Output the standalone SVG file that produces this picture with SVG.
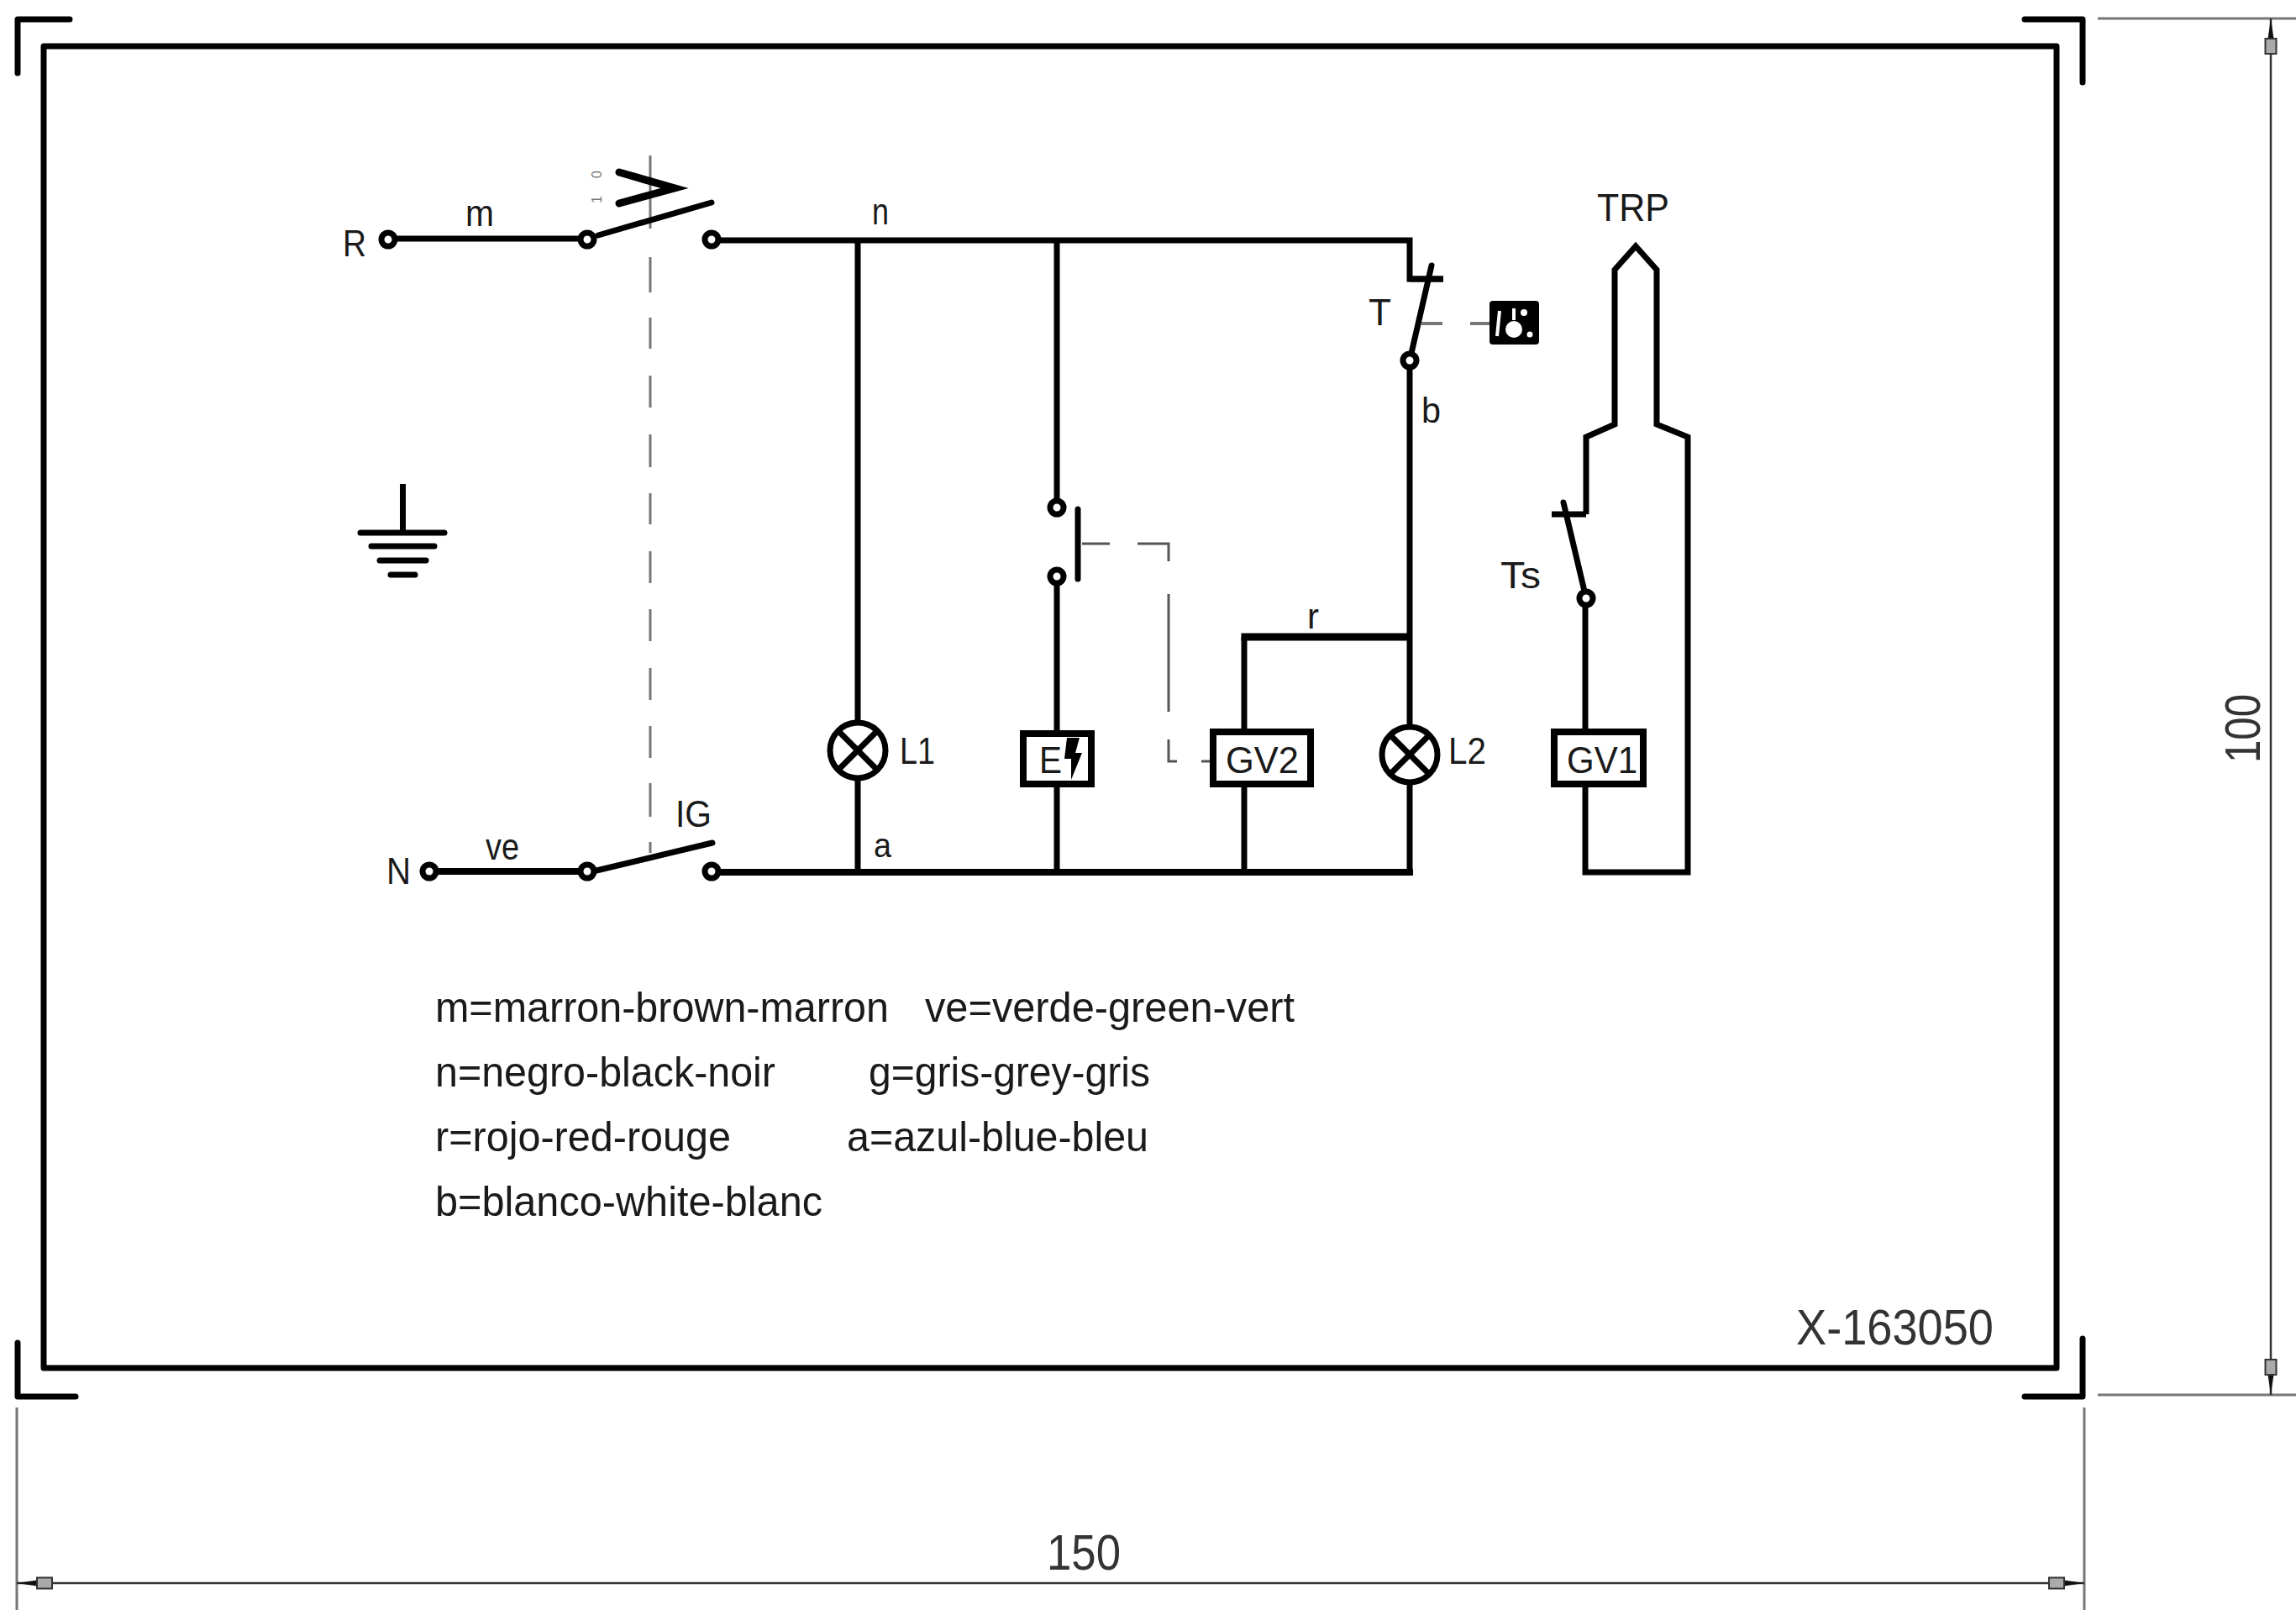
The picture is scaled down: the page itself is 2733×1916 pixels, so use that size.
<svg xmlns="http://www.w3.org/2000/svg" width="2733" height="1916" viewBox="0 0 2733 1916">
<style>
text{font-family:"Liberation Sans",Arial,sans-serif;fill:#1a1a1a;font-size:45px;}
.leg{font-size:50px}
.big{font-size:60px;fill:#333}
.w{fill:none;stroke:#000;stroke-width:7;stroke-linejoin:miter;stroke-linecap:butt}
.fr{fill:none;stroke:#000;stroke-width:7;stroke-linejoin:round;stroke-linecap:round}
.t{fill:#fff;stroke:#000;stroke-width:7}
.box{fill:#fff;stroke:#000;stroke-width:8}
.bl{fill:none;stroke:#000;stroke-width:7;stroke-linecap:round}
.d{fill:none;stroke:#555;stroke-width:3}
.e{fill:none;stroke:#777;stroke-width:3}
.dim{fill:none;stroke:#333;stroke-width:2.5;marker-start:url(#ah);marker-end:url(#ah)}
</style>
<defs>
<marker id="ah" markerUnits="userSpaceOnUse" markerWidth="46" markerHeight="18" refX="44" refY="9" orient="auto-start-reverse">
<path d="M44 9L20 5.5H20V12.5Z" fill="#111"/><rect x="2" y="2.5" width="18" height="13" fill="#aaa" stroke="#333" stroke-width="2"/>
</marker>
</defs>
<g id="frame">
<rect x="52" y="55" width="2396" height="1573" class="fr"/>
<path class="fr" d="M83 23H21V87"/>
<path class="fr" d="M2410 23H2479V98"/>
<path class="fr" d="M21 1598V1662H90"/>
<path class="fr" d="M2479 1593V1662H2410"/>
</g>
<g id="connectors">
<path class="w" d="M462 284H699"/>
<path class="w" d="M847 286H1678V332H1718"/>
<path class="w" d="M1021 286V1038"/>
<path class="w" d="M1258 286V604M1258 686V1038"/>
<path class="w" d="M1678 429V1038"/>
<path class="w" d="M1481 1038V758"/>
<path class="w" style="stroke-width:9" d="M1477.500 758H1678"/>
<path class="w" style="stroke-width:8" d="M511 1037H699M847 1038H1682"/>
<path class="w" d="M1888 612H1847M1888 612V520L1922 505V321L1947 293L1972 321V505L2009 520V1038H1887V712"/>
<path class="e" d="M774 185V272M774 306V348M774 378V415M774 447V485M774 517V556M774 587V624M774 656V694M774 725V763M774 795V833M774 864V902M774 932V972M774 1002V1015"/>
<path class="d" d="M1288 647H1321M1354 647H1391V668M1391 707V847M1391 880V906H1401M1430 906H1444"/>
<path style="fill:none;stroke:#777;stroke-width:4" d="M1692 385H1717M1750 385H1776"/>
</g>
<g id="terminal-R"><circle class="t" cx="462" cy="285" r="8"/><text x="408" y="305" textLength="28" lengthAdjust="spacingAndGlyphs">R</text></g>
<g id="label-m"><text x="554" y="269" textLength="34" lengthAdjust="spacingAndGlyphs">m</text></g>
<g id="switch-main">
<line class="bl" x1="712" y1="280" x2="847" y2="241"/>
<path class="bl" style="stroke-width:9" d="M737 205L803 224L737 242"/>
<text transform="translate(716,212) rotate(-90)" style="font-size:16px;fill:#777">0</text>
<text transform="translate(716,242) rotate(-90)" style="font-size:16px;fill:#777">1</text>
<circle class="t" cx="699" cy="285" r="8"/><circle class="t" cx="847" cy="285" r="8"/>
</g>
<g id="label-n"><text x="1038" y="267" textLength="20" lengthAdjust="spacingAndGlyphs">n</text></g>
<g id="earth">
<path class="w" d="M479.500 576V634"/>
<path class="bl" d="M429 634H529M442 650H517M452 667H507M465 684H494"/>
</g>
<g id="thermostat-T">
<path class="bl" d="M1704 316L1678 429"/>
<path class="bl" style="stroke-linecap:butt" d="M1678 332H1718"/>
<circle class="t" cx="1678" cy="429" r="8"/>
<text x="1629" y="387" textLength="27" lengthAdjust="spacingAndGlyphs">T</text>
<rect x="1773" y="358" width="59" height="52" rx="4" fill="#000"/>
<path d="M1785 370l-3 30M1802 367v14" stroke="#fff" stroke-width="4" fill="none"/>
<ellipse cx="1802" cy="392" rx="10" ry="10" fill="#fff"/>
<circle cx="1814" cy="372" r="4" fill="#fff"/><circle cx="1821" cy="398" r="3.500" fill="#fff"/>
</g>
<g id="label-b"><text x="1692" y="503" style="font-size:42px" textLength="23" lengthAdjust="spacingAndGlyphs">b</text></g>
<g id="label-TRP"><text x="1901" y="263" style="font-size:46px" textLength="86" lengthAdjust="spacingAndGlyphs">TRP</text></g>
<g id="thermostat-Ts">
<path class="bl" d="M1861 598L1888 712"/>
<circle class="t" cx="1888" cy="712" r="8"/>
<text x="1786" y="700" textLength="48" lengthAdjust="spacingAndGlyphs">Ts</text>
</g>
<g id="pushbutton">
<circle class="t" cx="1258" cy="604" r="8"/><circle class="t" cx="1258" cy="686" r="8"/>
<path class="bl" d="M1283 606V689"/>
</g>
<g id="label-r"><text x="1556" y="748" textLength="14" lengthAdjust="spacingAndGlyphs" style="font-size:42px">r</text></g>
<g id="lamp-L1">
<circle class="t" cx="1021" cy="893" r="33"/><path class="w" d="M998 870L1044 916M1044 870L998 916"/>
<text x="1071" y="909" textLength="42" lengthAdjust="spacingAndGlyphs">L1</text>
</g>
<g id="igniter-E">
<rect class="box" x="1218" y="873" width="81" height="60"/>
<text x="1237" y="920" textLength="27" lengthAdjust="spacingAndGlyphs">E</text>
<path d="M1270 878L1267 903H1275L1275 928L1288 896H1280L1285 878Z" fill="#000"/>
</g>
<g id="valve-GV2">
<rect class="box" x="1444" y="871" width="116" height="62"/>
<text x="1459" y="920" textLength="87" lengthAdjust="spacingAndGlyphs">GV2</text>
</g>
<g id="lamp-L2">
<circle class="t" cx="1678" cy="898" r="33"/><path class="w" d="M1655 875L1701 921M1701 875L1655 921"/>
<text x="1724" y="909" textLength="45" lengthAdjust="spacingAndGlyphs">L2</text>
</g>
<g id="valve-GV1">
<rect class="box" x="1850" y="871" width="106" height="62"/>
<text x="1865" y="920" textLength="84" lengthAdjust="spacingAndGlyphs">GV1</text>
</g>
<g id="label-a"><text x="1040" y="1020" style="font-size:40px" textLength="21" lengthAdjust="spacingAndGlyphs">a</text></g>
<g id="terminal-N"><circle class="t" cx="511" cy="1037" r="8"/><text x="460" y="1052" textLength="29" lengthAdjust="spacingAndGlyphs">N</text></g>
<g id="label-ve"><text x="578" y="1023" textLength="40" lengthAdjust="spacingAndGlyphs">ve</text></g>
<g id="switch-IG">
<line class="bl" x1="710" y1="1036" x2="848" y2="1003"/>
<circle class="t" cx="699" cy="1037" r="8"/><circle class="t" cx="847" cy="1037" r="8"/>
<text x="804" y="984" textLength="43" lengthAdjust="spacingAndGlyphs">IG</text>
</g>
<g id="legend">
<text class="leg" x="518" y="1216" textLength="540" lengthAdjust="spacingAndGlyphs">m=marron-brown-marron</text>
<text class="leg" x="1101" y="1216" textLength="440" lengthAdjust="spacingAndGlyphs">ve=verde-green-vert</text>
<text class="leg" x="518" y="1293" textLength="405" lengthAdjust="spacingAndGlyphs">n=negro-black-noir</text>
<text class="leg" x="1034" y="1293" textLength="335" lengthAdjust="spacingAndGlyphs">g=gris-grey-gris</text>
<text class="leg" x="518" y="1370" textLength="352" lengthAdjust="spacingAndGlyphs">r=rojo-red-rouge</text>
<text class="leg" x="1008" y="1370" textLength="359" lengthAdjust="spacingAndGlyphs">a=azul-blue-bleu</text>
<text class="leg" x="518" y="1447" textLength="461" lengthAdjust="spacingAndGlyphs">b=blanco-white-blanc</text>
</g>
<g id="part-number"><text class="big" x="2138" y="1600" textLength="235" lengthAdjust="spacingAndGlyphs">X-163050</text></g>
<g id="dimensions">
<path class="e" d="M2497 22H2733M2497 1660H2733M20 1675V1916M2481 1675V1916"/>
<line class="dim" x1="2703" y1="22" x2="2703" y2="1660"/>
<line class="dim" x1="20" y1="1884" x2="2481" y2="1884"/>
<text class="big" x="1246" y="1868" textLength="88" lengthAdjust="spacingAndGlyphs">150</text>
<text class="big" transform="translate(2690,908) rotate(-90)" textLength="82" lengthAdjust="spacingAndGlyphs">100</text>
</g>
</svg>
